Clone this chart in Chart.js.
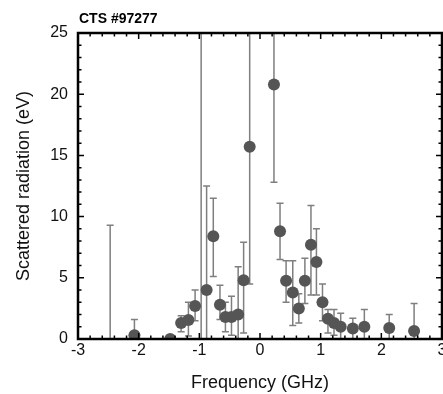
<!DOCTYPE html>
<html>
<head>
<meta charset="utf-8">
<script src="https://cdn.jsdelivr.net/npm/chart.js@4.4.0/dist/chart.umd.min.js"></script>
<style>
  html, body { margin: 0; padding: 0; background: #fff; overflow: hidden; }
  #wrap { width: 470px; height: 394px; }
</style>
</head>
<body>
<div id="wrap"><canvas id="ctsChart" width="470" height="394"></canvas></div>
<script>
'use strict';

const freq      = [-2.47, -2.07, -1.48, -1.30, -1.18, -1.07, -0.97, -0.88, -0.77, -0.66, -0.57, -0.47, -0.36, -0.27, -0.17, 0.23, 0.33, 0.43, 0.54, 0.64, 0.74, 0.84, 0.93, 1.03, 1.12, 1.22, 1.33, 1.53, 1.72, 2.13, 2.54]
const radiation = [-1.5, 0.3, 0.0, 1.3, 1.55, 2.7, -1.5, 4.0, 8.4, 2.8, 1.8, 1.8, 2.0, 4.8, 15.7, 20.8, 8.8, 4.75, 3.8, 2.5, 4.75, 7.7, 6.3, 3.0, 1.65, 1.3, 1.0, 0.85, 1.0, 0.9, 0.65]
const errLow    = [-5, -1, 0.0, 0.6, 0.25, 1.5, -5, -1, 5.1, 1.6, 0.6, 0.3, -1, 0.5, 4.5, 12.8, 6.5, 3.0, 1.1, 1.3, 2.9, 3.6, 3.6, 1.5, 0.5, 0.3, -0.2, -0.2, -0.2, -0.2, -0.2]
const errHigh   = [9.3, 1.6, 0.0, 1.9, 3.0, 4.0, 30, 12.5, 11.5, 4.4, 3.0, 3.5, 5.9, 7.9, 30, 30, 11.1, 6.4, 6.4, 3.7, 6.6, 10.9, 9.0, 4.5, 2.4, 2.4, 2.1, 1.7, 2.4, 2.0, 2.9]

const xTicks = [-3, -2, -1, 0, 1, 2, 3]
const yTicks = [0, 5, 10, 15, 20, 25]

const labelFont = '"Liberation Sans", Arial, sans-serif'

const ctx = document.getElementById('ctsChart')

const plotDecor = {
  id: 'plotDecor',
  beforeDatasetsDraw(chart) {
    const { ctx, chartArea: a, scales: { x, y } } = chart
    ctx.save()
    ctx.beginPath()
    ctx.rect(a.left, a.top, a.right - a.left, a.bottom - a.top)
    ctx.clip()
    ctx.strokeStyle = '#7f7f7f'
    ctx.lineWidth = 1.5
    freq.forEach((f, i) => {
      if (errLow[i] === errHigh[i]) return
      const px = x.getPixelForValue(f)
      const pTop = y.getPixelForValue(errHigh[i])
      const pBot = y.getPixelForValue(errLow[i])
      ctx.beginPath()
      ctx.moveTo(px, pTop)
      ctx.lineTo(px, pBot)
      ctx.moveTo(px - 3.5, pTop)
      ctx.lineTo(px + 3.5, pTop)
      ctx.moveTo(px - 3.5, pBot)
      ctx.lineTo(px + 3.5, pBot)
      ctx.stroke()
    })
    ctx.restore()
  },
  afterDatasetsDraw(chart) {
    const { ctx, chartArea: a, scales: { x, y } } = chart
    ctx.save()
    ctx.strokeStyle = '#000'
    ctx.lineWidth = 1.5
    ctx.beginPath()
    // x ticks, inward, top and bottom
    for (let v = xTicks[0]; v <= xTicks[xTicks.length - 1] + 1e-9; v += 0.2) {
      const major = Math.abs(v - Math.round(v)) < 1e-6
      const len = major ? 6 : 3.5
      const px = x.getPixelForValue(v)
      ctx.moveTo(px, a.bottom); ctx.lineTo(px, a.bottom - len)
      ctx.moveTo(px, a.top); ctx.lineTo(px, a.top + len)
    }
    // y ticks, inward, left and right
    for (let v = yTicks[0]; v <= yTicks[yTicks.length - 1]; v += 1) {
      const len = v % 5 === 0 ? 6 : 3.5
      const py = y.getPixelForValue(v)
      ctx.moveTo(a.left, py); ctx.lineTo(a.left + len, py)
      ctx.moveTo(a.right, py); ctx.lineTo(a.right - len, py)
    }
    ctx.stroke()
    ctx.lineWidth = 2.5
    ctx.strokeRect(a.left, a.top, a.right - a.left, a.bottom - a.top)

    ctx.fillStyle = '#000'
    ctx.font = 'bold 14px ' + labelFont
    ctx.textBaseline = 'middle'
    ctx.textAlign = 'left'
    ctx.fillText('CTS #97277', a.left + 1, 19)
    ctx.restore()
  }
}

const ctsChart = new Chart(ctx, {
  type: 'scatter',
  data: {
    datasets: [{
      label: 'CTS #97277',
      data: freq.map((f, i) => ({ x: f, y: radiation[i] })),
      pointRadius: 6,
      pointHoverRadius: 6,
      pointBackgroundColor: '#555555',
      pointBorderColor: '#555555',
      pointBorderWidth: 0
    }]
  },
  options: {
    responsive: false,
    animation: false,
    events: [],
    layout: { padding: { top: 33, right: 28, left: 0, bottom: 0 } },
    plugins: {
      legend: { display: false },
      tooltip: { enabled: false }
    },
    scales: {
      x: {
        type: 'linear',
        min: -3,
        max: 3,
        afterFit(scale) { scale.height = 55 },
        afterBuildTicks(scale) { scale.ticks = xTicks.map(v => ({ value: v })) },
        grid: { display: false, drawTicks: false },
        border: { display: false },
        ticks: {
          padding: 2,
          color: '#111',
          font: { family: labelFont, size: 16 },
          maxRotation: 0,
          callback: v => String(v)
        },
        title: {
          display: true,
          text: 'Frequency (GHz)',
          color: '#111',
          font: { family: labelFont, size: 18 },
          padding: { top: 1, bottom: 0 }
        }
      },
      y: {
        type: 'linear',
        min: 0,
        max: 25,
        afterFit(scale) { scale.width = 78 },
        afterBuildTicks(scale) { scale.ticks = yTicks.map(v => ({ value: v })) },
        grid: { display: false, drawTicks: false },
        border: { display: false },
        ticks: {
          padding: 10,
          color: '#111',
          font: { family: labelFont, size: 16 },
          callback: v => String(v)
        },
        title: {
          display: true,
          text: 'Scattered radiation (eV)',
          color: '#111',
          font: { family: labelFont, size: 18 },
          padding: { top: 13, bottom: 0 }
        }
      }
    }
  },
  plugins: [plotDecor]
})
</script>
</body>
</html>
